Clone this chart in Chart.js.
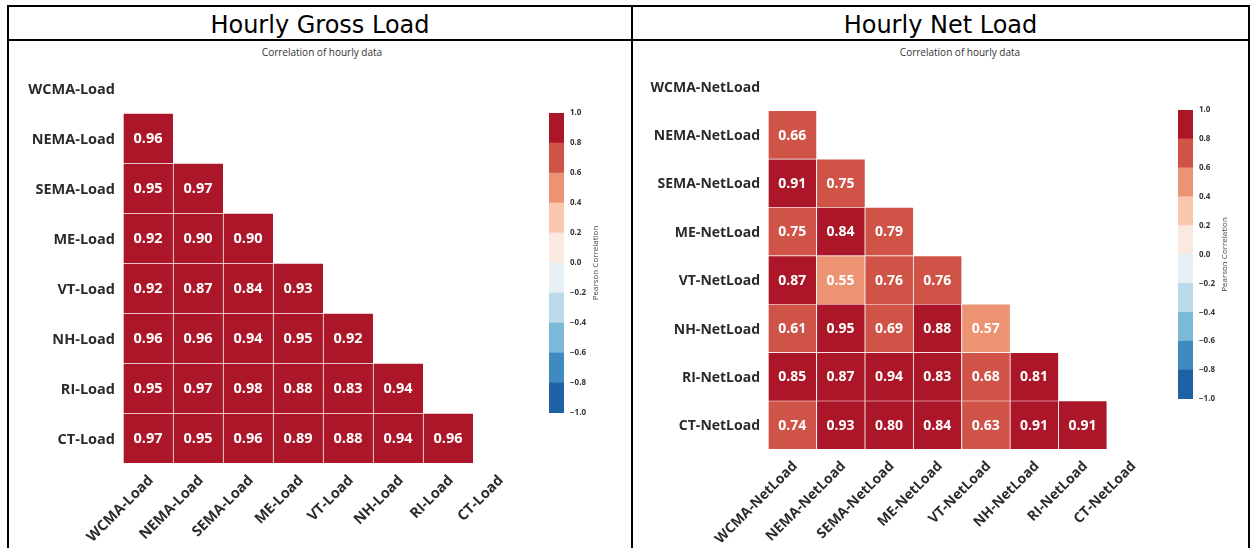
<!DOCTYPE html>
<html>
<head>
<meta charset="utf-8">
<title>Hourly load correlation</title>
<script src="https://cdn.jsdelivr.net/npm/chart.js@4.4.1/dist/chart.umd.min.js"></script>
<style>
  html, body { margin: 0; padding: 0; background: #fff; overflow: hidden; }
  body { position: relative; width: 1252px; height: 548px; font-family: "Open Sans", sans-serif; }
  .panel { position: absolute; top: 5px; height: 600px; border: 2px solid #000; box-sizing: border-box; }
  #panelGross { left: 7px; width: 626px; }
  #panelNet { left: 631px; width: 619px; }
  .head { height: 30px; padding-top: 2px; line-height: 32px; border-bottom: 2px solid #000; text-align: center;
          font-family: "DejaVu Sans", sans-serif; font-size: 24px; color: #000; overflow: hidden; }
  .sub { position: absolute; top: 45px; width: 300px; line-height: 14px; text-align: center;
         font-size: 10px; color: #333; }
  canvas { position: absolute; }
  #grossChart { left: 9px; top: 41px; }
  #netChart { left: 633px; top: 41px; }
  #grossBar { left: 540px; top: 100px; }
  #netBar { left: 1169px; top: 97px; }
</style>
</head>
<body>
<div class="panel" id="panelGross"><div class="head">Hourly Gross Load</div></div>
<div class="panel" id="panelNet"><div class="head">Hourly Net Load</div></div>
<div class="sub" style="left:172px">Correlation of hourly data</div>
<div class="sub" style="left:810px">Correlation of hourly data</div>
<canvas id="grossChart" width="522" height="507"></canvas>
<canvas id="netChart" width="530" height="507"></canvas>
<canvas id="grossBar" width="100" height="330"></canvas>
<canvas id="netBar" width="80" height="320"></canvas>
<script>
// discrete RdBu_r palette, one colour per 0.2 step from -1 to 1
const binColors = ['#1f61a5', '#3d8bbf', '#7cb8d7', '#badaea', '#e6eff4',
                   '#fae9e1', '#f9c7ae', '#ec9374', '#d05347', '#ab1629'];
const colorbarTicks = [-1, -0.8, -0.6, -0.4, -0.2, 0, 0.2, 0.4, 0.6, 0.8, 1];

const grossLabels = ['WCMA-Load', 'NEMA-Load', 'SEMA-Load', 'ME-Load',
                     'VT-Load', 'NH-Load', 'RI-Load', 'CT-Load'];
// lower triangle only, row i holds correlations with columns 0..i-1
const grossCorr = [
  [],
  [0.96],
  [0.95, 0.97],
  [0.92, 0.90, 0.90],
  [0.92, 0.87, 0.84, 0.93],
  [0.96, 0.96, 0.94, 0.95, 0.92],
  [0.95, 0.97, 0.98, 0.88, 0.83, 0.94],
  [0.97, 0.95, 0.96, 0.89, 0.88, 0.94, 0.96]
];

const netLabels = ['WCMA-NetLoad', 'NEMA-NetLoad', 'SEMA-NetLoad', 'ME-NetLoad',
                   'VT-NetLoad', 'NH-NetLoad', 'RI-NetLoad', 'CT-NetLoad'];
const netCorr = [
  [],
  [0.66],
  [0.91, 0.75],
  [0.75, 0.84, 0.79],
  [0.87, 0.55, 0.76, 0.76],
  [0.61, 0.95, 0.69, 0.88, 0.57],
  [0.85, 0.87, 0.94, 0.83, 0.68, 0.81],
  [0.74, 0.93, 0.80, 0.84, 0.63, 0.91, 0.91]
];

const labelColor = '#2b2b2b';

function colorFor(v) {
  const i = Math.min(binColors.length - 1, Math.max(0, Math.floor((v + 1) * 5 + 1e-9)));
  return binColors[i];
}

function fmtTick(v) {
  if (Math.abs(v) < 1e-9) return '0.0';
  return v < 0 ? '\u2212' + Math.abs(v).toFixed(1) : v.toFixed(1);
}

// writes the correlation value in the middle of each cell
const cellText = {
  id: 'cellText',
  afterDatasetsDraw(chart, args, opts) {
    const ctx = chart.ctx;
    ctx.save();
    ctx.font = 'bold ' + opts.size + 'px "Open Sans"';
    ctx.fillStyle = '#fff';
    ctx.textAlign = 'center';
    ctx.textBaseline = 'middle';
    chart.data.datasets.forEach((ds, i) => {
      chart.getDatasetMeta(i).data.forEach((bar, j) => {
        if (ds.data[j] === null) return;
        ctx.fillText(ds.corr[j].toFixed(2), bar.x, (bar.y + bar.base) / 2 + 1);
      });
    });
    ctx.restore();
  }
};

// rotated label beside the colour bar
const barTitle = {
  id: 'barTitle',
  afterDraw(chart, args, opts) {
    const s = chart.scales.y;
    const ctx = chart.ctx;
    ctx.save();
    ctx.translate(s.right + opts.offset, (s.top + s.bottom) / 2);
    ctx.rotate(-Math.PI / 2);
    ctx.font = '8px "Open Sans"';
    ctx.fillStyle = '#444';
    ctx.textAlign = 'center';
    ctx.textBaseline = 'middle';
    ctx.fillText(opts.text, 0, 0);
    ctx.restore();
  }
};

function heatmap(id, labels, corr, cfg) {
  const font = { family: '"Open Sans"', weight: 'bold', size: cfg.fontSize };
  const datasets = corr.map((row, r) => ({
    label: labels[r],
    corr: row,
    data: labels.map((_, c) => (c < row.length ? [r, r + 1] : null)),
    backgroundColor: ctx => (ctx.dataIndex < row.length ? colorFor(row[ctx.dataIndex]) : 'transparent'),
    borderColor: 'rgba(255,255,255,0.85)',
    borderWidth: { top: 1, left: 1, right: 0, bottom: 0 },
    borderSkipped: false,
    grouped: false,
    barPercentage: 1,
    categoryPercentage: 1
  }));

  return new Chart(document.getElementById(id), {
    type: 'bar',
    data: { labels: labels, datasets: datasets },
    options: {
      responsive: false,
      animation: false,
      layout: { padding: { top: cfg.top, right: 8, left: 0, bottom: 0 } },
      plugins: {
        legend: { display: false },
        tooltip: { enabled: false },
        cellText: { size: cfg.fontSize }
      },
      scales: {
        x: {
          grid: { display: false, drawTicks: false },
          border: { display: false },
          ticks: { autoSkip: false, minRotation: 45, maxRotation: 45, padding: 9, labelOffset: 3,
                   color: labelColor, font: font },
          afterFit: s => { s.height = cfg.xHeight; }
        },
        y: {
          type: 'linear',
          min: 0,
          max: labels.length,
          reverse: true,
          afterBuildTicks: s => { s.ticks = labels.map((_, i) => ({ value: i + 0.5 })); },
          grid: { display: false, drawTicks: false },
          border: { display: false },
          ticks: { padding: 8, labelOffset: 1.5, color: labelColor, font: font,
                   callback: v => labels[Math.floor(v)] },
          afterFit: s => { s.width = cfg.yWidth; }
        }
      }
    },
    plugins: [cellText]
  });
}

function colorbar(id, pad) {
  const datasets = binColors.map((c, i) => ({
    data: [[colorbarTicks[i], colorbarTicks[i + 1]]],
    backgroundColor: c,
    borderWidth: 0,
    grouped: false,
    barPercentage: 1,
    categoryPercentage: 1
  }));
  return new Chart(document.getElementById(id), {
    type: 'bar',
    data: { labels: [''], datasets: datasets },
    options: {
      responsive: false,
      animation: false,
      layout: { padding: pad },
      plugins: {
        legend: { display: false },
        tooltip: { enabled: false },
        barTitle: { text: 'Pearson Correlation', offset: 4 }
      },
      scales: {
        x: { display: false },
        y: {
          position: 'right',
          min: -1,
          max: 1,
          afterBuildTicks: s => { s.ticks = colorbarTicks.map(v => ({ value: v })); },
          grid: { display: false, drawTicks: false },
          border: { display: false },
          ticks: { padding: 6, color: '#333', font: { family: '"Open Sans"', weight: 'bold', size: 8 },
                   callback: v => fmtTick(v) },
          afterFit: s => { s.width = 28; }
        }
      }
    },
    plugins: [barTitle]
  });
}

heatmap('grossChart', grossLabels, grossCorr, { fontSize: 14.5, top: 22, xHeight: 85, yWidth: 114 });
heatmap('netChart', netLabels, netCorr, { fontSize: 14, top: 21, xHeight: 99, yWidth: 135 });
colorbar('grossBar', { left: 9, top: 13, bottom: 17, right: 48 });
colorbar('netBar', { left: 9, top: 13, bottom: 18, right: 28 });
</script>
</body>
</html>
